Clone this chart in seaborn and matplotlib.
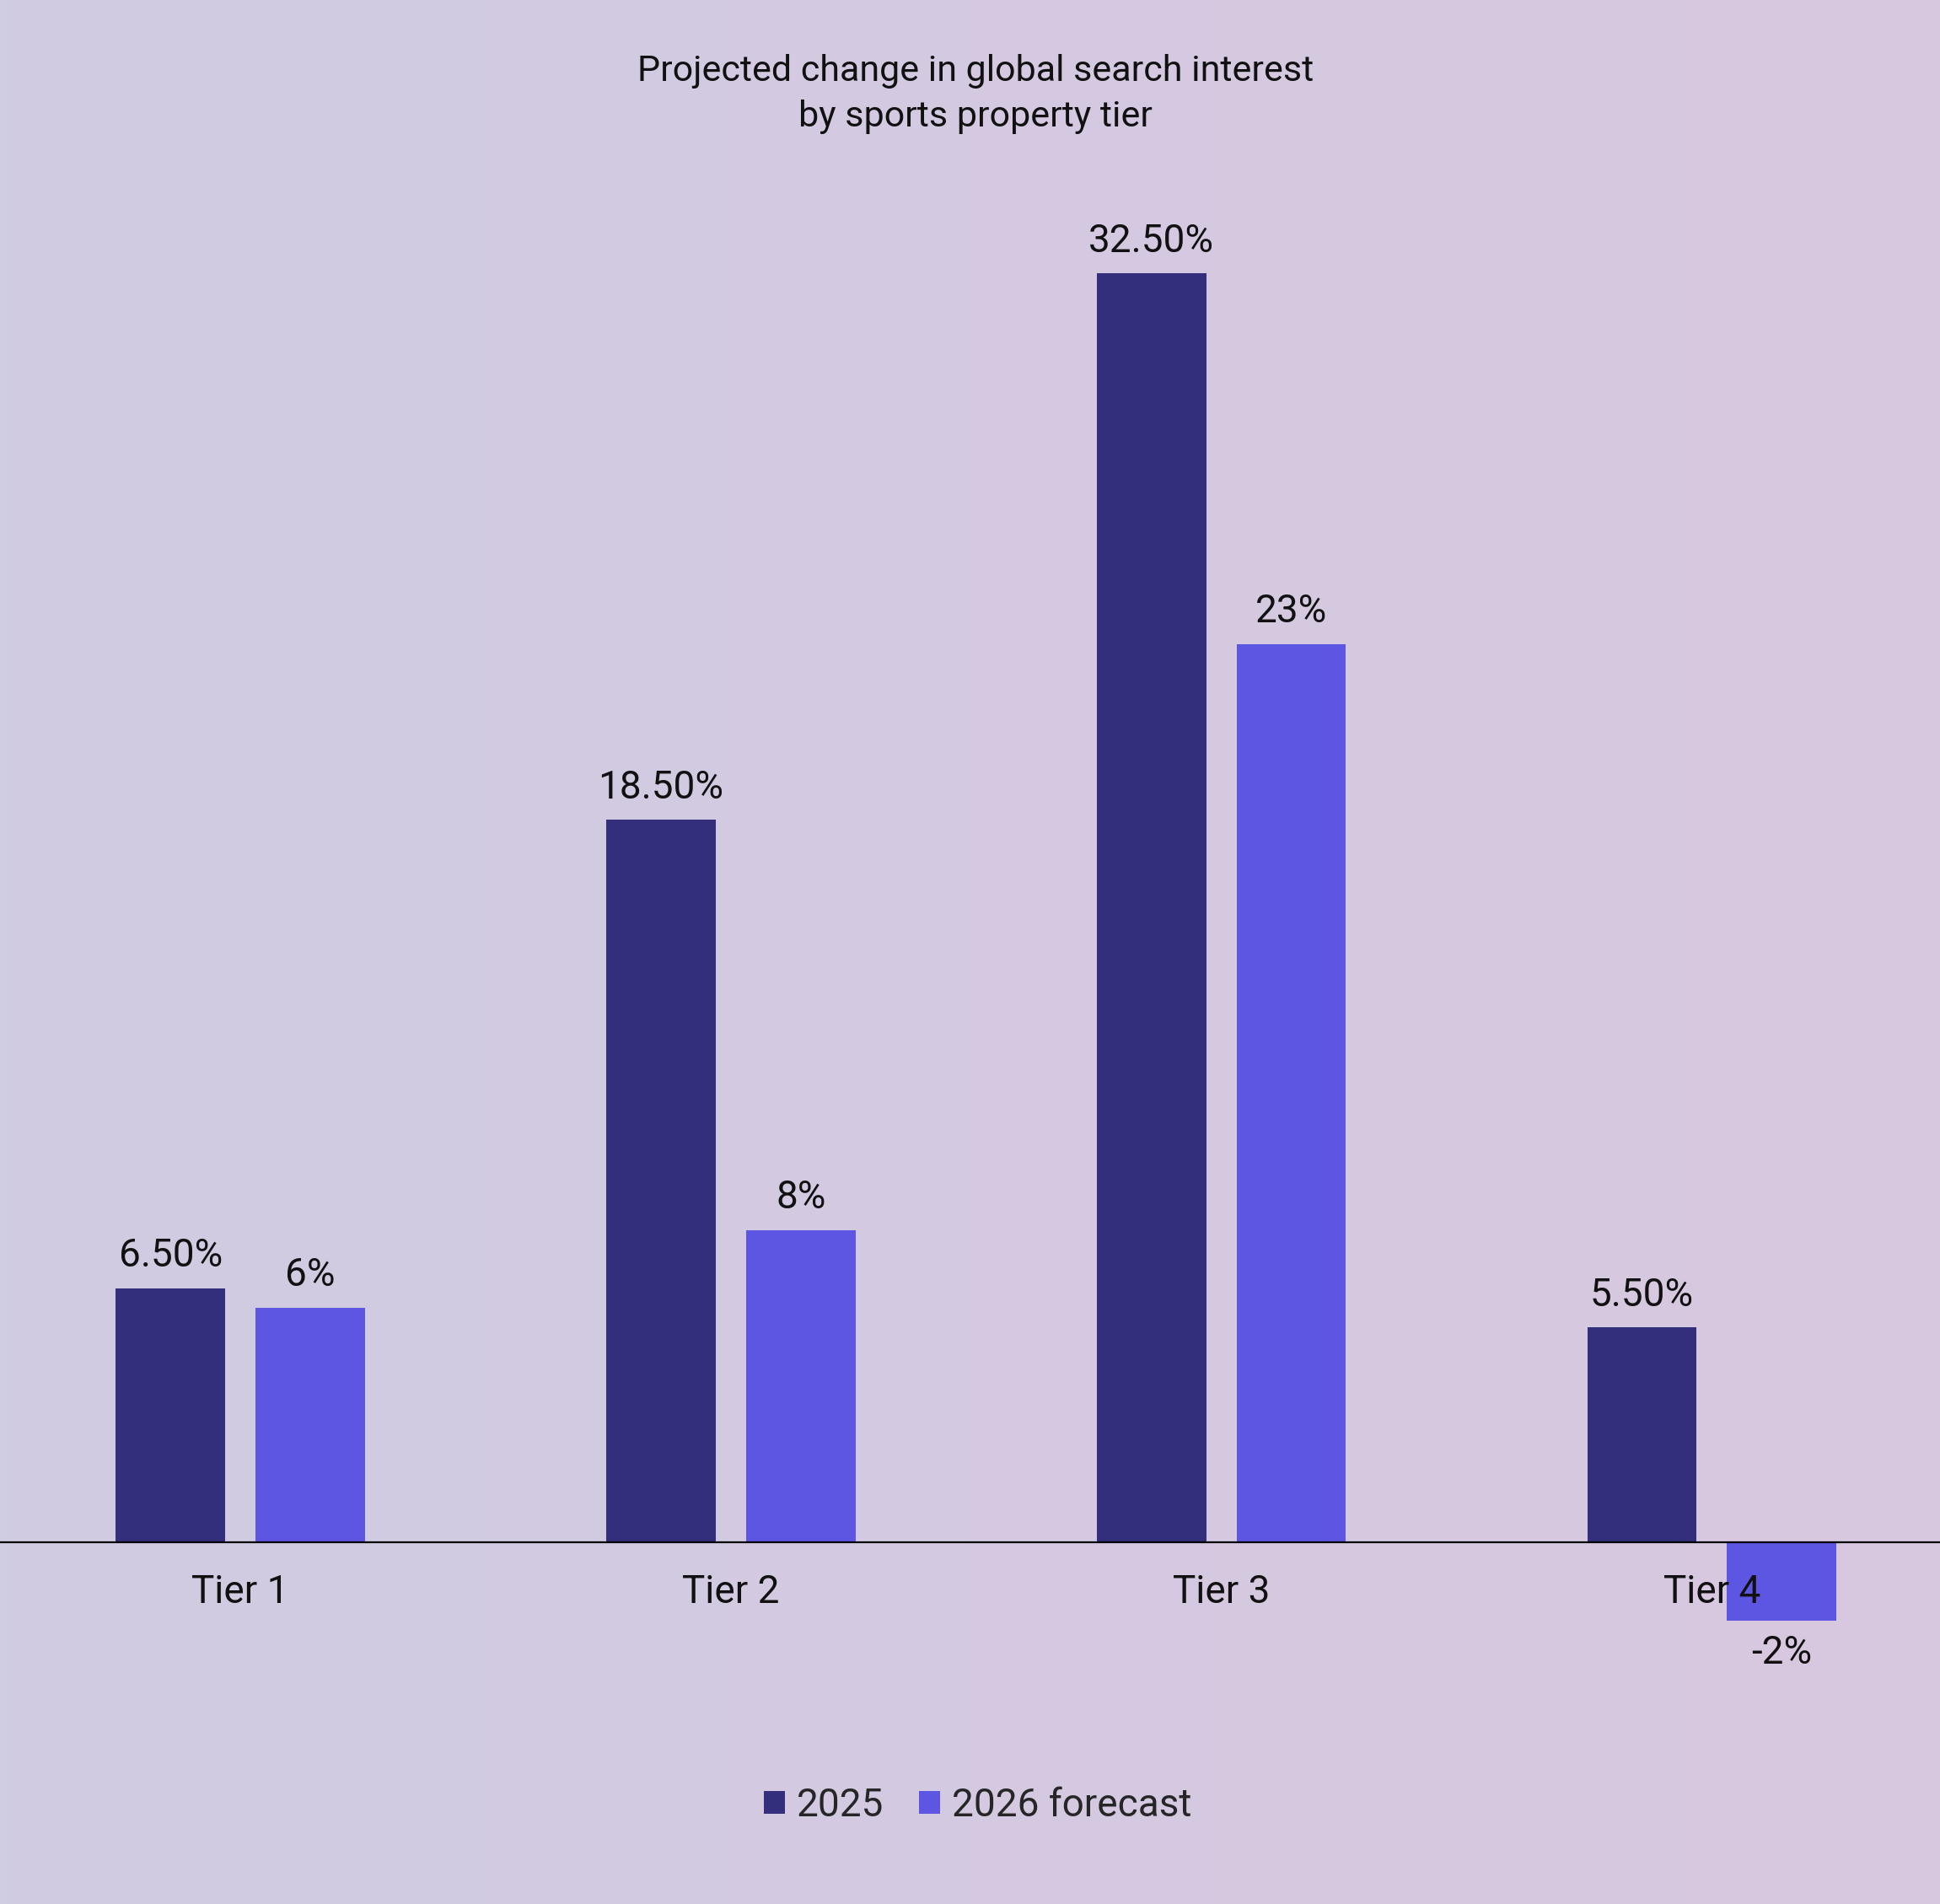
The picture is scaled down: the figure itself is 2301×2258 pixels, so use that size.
import numpy as np
import pandas as pd
import seaborn as sns
import matplotlib.pyplot as plt
from matplotlib.patches import Patch
from matplotlib.colors import LinearSegmentedColormap

# data
tiers = ['Tier 1', 'Tier 2', 'Tier 3', 'Tier 4']
vals_2025 = [6.5, 18.5, 32.5, 5.5]
vals_2026 = [6.0, 8.0, 23.0, -2.0]
labels_2025 = ['6.50%', '18.50%', '32.50%', '5.50%']
labels_2026 = ['6%', '8%', '23%', '-2%']
series = ['2025', '2026 forecast']
colors = ['#342F7D', '#5D56E3']

df = pd.DataFrame({
    'tier': tiers * 2,
    'value': vals_2025 + vals_2026,
    'series': [series[0]] * 4 + [series[1]] * 4,
})

sns.set_style('white')
plt.rcParams['font.family'] = ['Roboto', 'DejaVu Sans']

fig = plt.figure(figsize=(23.01, 22.58), dpi=100)

# soft lavender background gradient
bg = fig.add_axes([0, 0, 1, 1], zorder=0)
cmap = LinearSegmentedColormap.from_list('bg', ['#D0CCE2', '#D4CAE1', '#D8C8DF'])
bg.imshow(np.linspace(0, 1, 256).reshape(1, -1), aspect='auto', cmap=cmap,
          extent=[0, 1, 0, 1])
bg.axis('off')

ax = fig.add_axes([0, 0.108, 1, 0.8202], zorder=1)
ax.set_facecolor('none')

sns.barplot(data=df, x='tier', y='value', hue='series', palette=colors,
            width=0.57, gap=0.217, saturation=1, linewidth=0, legend=False, ax=ax)

ax.set_ylim(-4, 36)
ax.set_xlim(-0.49, 3.465)
ax.set_axisbelow(False)

for cont, labs in zip(ax.containers, [labels_2025, labels_2026]):
    ax.bar_label(cont, labels=labs, padding=12, fontsize=33, color='#111111')

for s in ['top', 'right', 'left']:
    ax.spines[s].set_visible(False)
ax.spines['bottom'].set_position(('data', 0))
ax.spines['bottom'].set_color('black')
ax.spines['bottom'].set_linewidth(1.6)
ax.set_yticks([])
ax.set_xlabel('')
ax.set_ylabel('')
ax.tick_params(axis='x', length=0, pad=27, labelsize=33, labelcolor='#111111')

fig.text(0.503, 0.9715, 'Projected change in global search interest\nby sports property tier',
         ha='center', va='top', fontsize=31, linespacing=1.4, color='#111111')

handles = [Patch(facecolor=c, edgecolor='none', label=s) for c, s in zip(colors, series)]
fig.legend(handles=handles, loc='center', bbox_to_anchor=(0.504, 0.052),
           ncol=2, frameon=False, fontsize=33, handlelength=0.55,
           handleheight=0.55, handletextpad=0.3, columnspacing=0.9)

fig.savefig('out.png', dpi=100)
